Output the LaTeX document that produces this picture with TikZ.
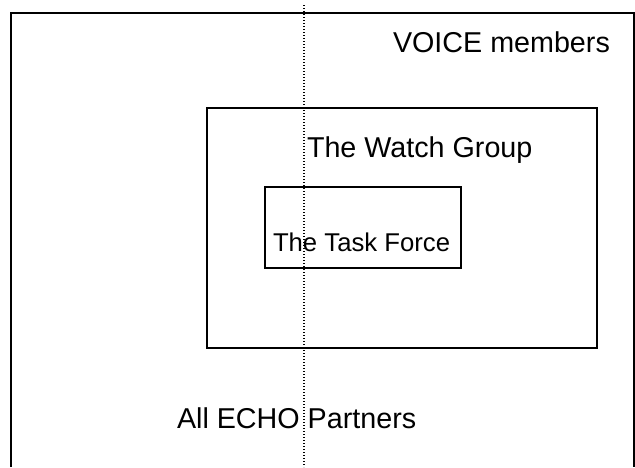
\documentclass[tikz,border=0pt]{standalone}
\usepackage{fontspec}
\setmainfont{Liberation Sans}
\begin{document}
\begin{tikzpicture}[x=1pt,y=-1pt,
  frame/.style={draw=black,line width=1.6pt},
  box/.style={draw=black,line width=1.6pt,inner sep=0pt,outer sep=0pt},
  lbl/.style={inner sep=0pt,outer sep=0pt,anchor=base west,font=\fontsize{28.7}{30}\selectfont},
  lblsmall/.style={inner sep=0pt,outer sep=0pt,anchor=base west,font=\fontsize{25.7}{27}\selectfont},
  divider/.style={draw=black,line width=1.3pt,dash pattern=on 1.3pt off 1.7pt}]
\useasboundingbox (0,0) rectangle (635,467);
\coordinate (ol) at (11,467);
\coordinate (otl) at (11,13);
\coordinate (otr) at (634,13);
\coordinate (or) at (634,467);
\draw[frame] (ol) -- (otl) -- (otr) -- (or);
\node[box,minimum width=390pt,minimum height=240pt] (watch) at (402,228) {};
\node[box,minimum width=196pt,minimum height=81pt] (task) at (363,227.5) {};
\coordinate (dtop) at (304,5);
\coordinate (dbot) at (304,467);
\draw[divider] (dtop) -- (dbot);
\node[lbl] (voice) at (393,52) {VOICE members};
\node[lbl] (watchlbl) at (307,157) {The Watch Group};
\node[lblsmall] (tasklbl) at (273,251) {The Task Force};
\node[lbl] (echo) at (177,428) {All ECHO Partners};
\end{tikzpicture}
\end{document}
